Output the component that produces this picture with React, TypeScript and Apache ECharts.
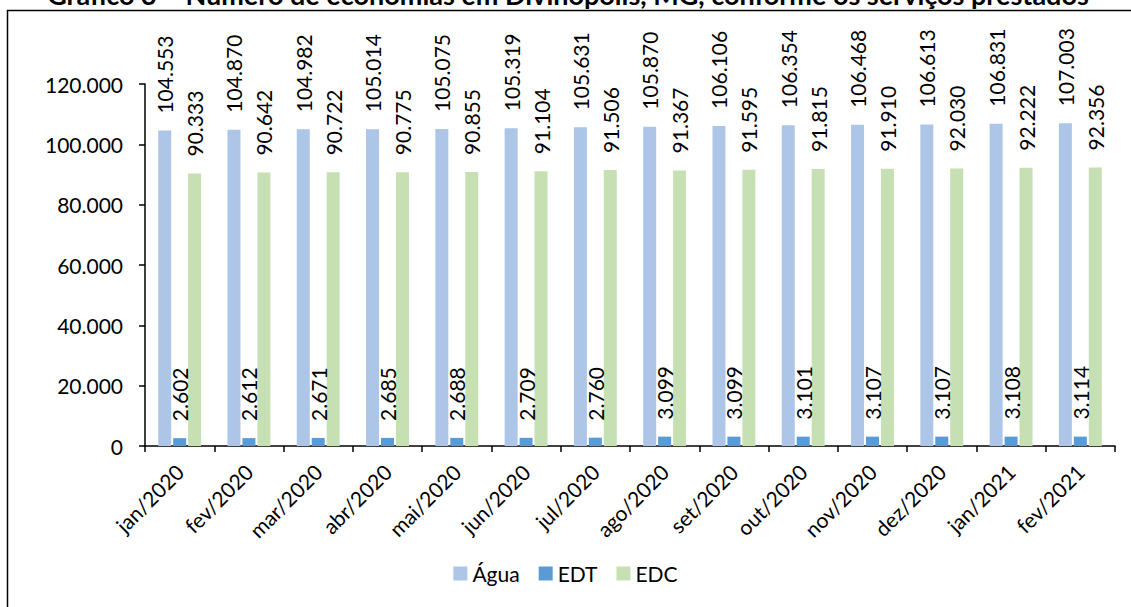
import React, { useEffect, useRef } from "react";
import * as echarts from "echarts";

const categories = [
  "jan/2020", "fev/2020", "mar/2020", "abr/2020", "mai/2020", "jun/2020", "jul/2020",
  "ago/2020", "set/2020", "out/2020", "nov/2020", "dez/2020", "jan/2021", "fev/2021",
];
const agua = [104553, 104870, 104982, 105014, 105075, 105319, 105631, 105870, 106106, 106354, 106468, 106613, 106831, 107003];
const edt = [2602, 2612, 2671, 2685, 2688, 2709, 2760, 3099, 3099, 3101, 3107, 3107, 3108, 3114];
const edc = [90333, 90642, 90722, 90775, 90855, 91104, 91506, 91367, 91595, 91815, 91910, 92030, 92222, 92356];
const seriesNames = ["Água", "EDT", "EDC"];
const colors = ["#adc6e7", "#5b9bd5", "#c6e0b4"];
const titleText = "Gráfico 3 – Número de economias em Divinópolis, MG, conforme os serviços prestados";

const FONT = "Lato";
const fmt = (v: number) => String(Math.round(v)).replace(/\B(?=(\d{3})+(?!\d))/g, ".");

export default function App() {
  const ref = useRef<HTMLDivElement>(null);
  useEffect(() => {
    document.body.style.margin = "0";
    const chart = echarts.init(ref.current!, null, { renderer: "svg" });
    const data = [agua, edt, edc];
    chart.setOption({
      animation: false,
      backgroundColor: "#ffffff",
      textStyle: { fontFamily: FONT },
      graphic: [
        {
          type: "rect",
          shape: { x: 7.5, y: 10.5, width: 1300, height: 800 },
          style: { fill: "none", stroke: "#000", lineWidth: 1.5 },
          silent: true,
        },
        {
          type: "text",
          x: 568,
          y: 8,
          style: {
            text: titleText,
            fontFamily: FONT,
            fontWeight: "bold",
            fontSize: 27,
            fill: "#000",
            align: "center",
            verticalAlign: "bottom",
          },
        },
      ],
      grid: { left: 145, right: 16, top: 84, bottom: 161, containLabel: false },
      legend: {
        bottom: 18,
        left: "center",
        itemWidth: 14,
        itemHeight: 14,
        itemGap: 19,
        icon: "rect",
        textStyle: { fontFamily: FONT, fontSize: 21, color: "#000" },
        data: seriesNames,
      },
      xAxis: {
        type: "category",
        data: categories,
        axisLine: { lineStyle: { color: "#000", width: 1.5 } },
        axisTick: { show: true, length: 6, lineStyle: { color: "#000", width: 1.5 } },
        axisLabel: { rotate: 45, fontSize: 21, fontFamily: FONT, color: "#000", margin: 22, interval: 0 },
      },
      yAxis: {
        type: "value",
        min: 0,
        max: 120000,
        interval: 20000,
        splitLine: { show: false },
        axisLine: { show: true, lineStyle: { color: "#000", width: 1.5 } },
        axisTick: { show: true, length: 6, lineStyle: { color: "#000", width: 1.5 } },
        axisLabel: { fontSize: 21, fontFamily: FONT, color: "#000", margin: 22, formatter: (v: number) => fmt(v) },
      },
      series: seriesNames.map((name, i) => ({
        name,
        type: "bar",
        data: data[i],
        barWidth: 13,
        barGap: "15%",
        itemStyle: { color: colors[i] },
        label: {
          show: true,
          position: "top",
          rotate: 90,
          align: "left",
          verticalAlign: "middle",
          distance: 17,
          fontSize: 21,
          fontFamily: FONT,
          color: "#000",
          formatter: (p: any) => fmt(p.value),
        },
      })),
    });
    return () => chart.dispose();
  }, []);
  return <div ref={ref} style={{ width: 1131, height: 607 }} />;
}
